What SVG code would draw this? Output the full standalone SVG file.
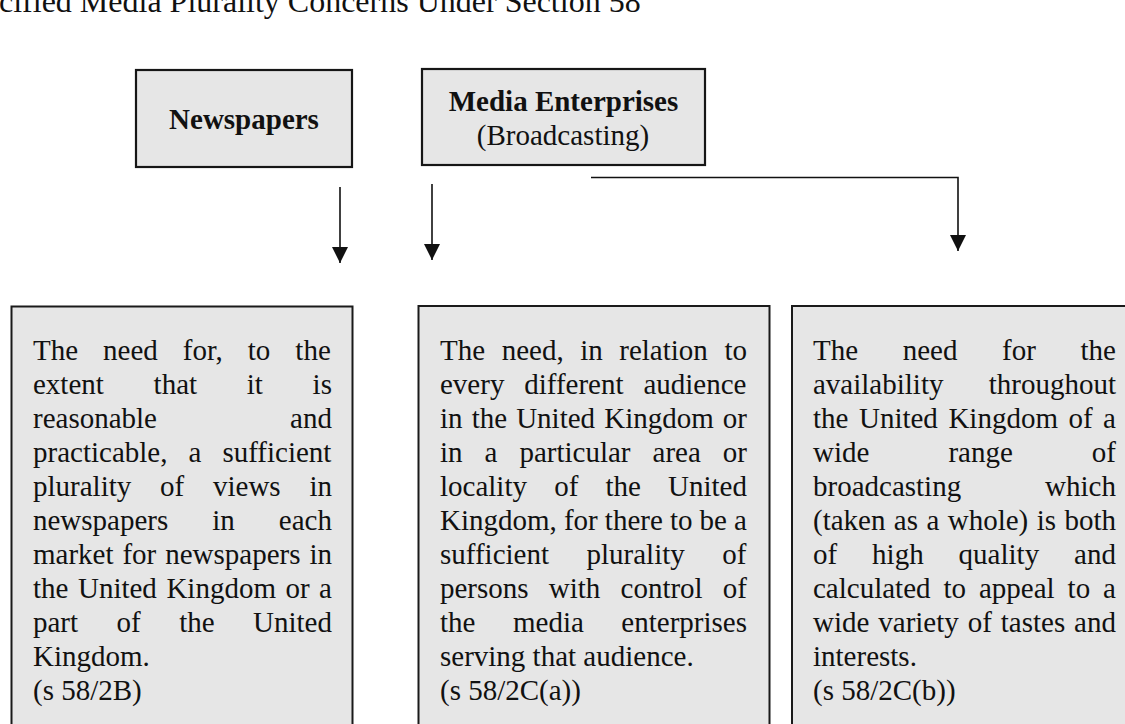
<svg xmlns="http://www.w3.org/2000/svg" width="1125" height="724" viewBox="0 0 1125 724">
<defs>
<style>
text { font-family: "Liberation Serif", "Times New Roman", serif; fill: #111; font-variant-ligatures: none; }
.title { font-size: 32px; }
.head { font-size: 29px; font-weight: bold; text-anchor: middle; }
.sub { font-size: 29px; text-anchor: middle; }
.body { font-size: 29px; }
.topbox { fill: #e6e6e6; stroke: #161616; stroke-width: 2.2; }
.box { fill: #e6e6e6; stroke: #1a1a1a; stroke-width: 2; }
.conn { fill: none; stroke: #111; stroke-width: 1.6; }
</style>
<marker id="arrow" markerUnits="userSpaceOnUse" markerWidth="16" markerHeight="16" refX="16" refY="8" orient="auto">
<path d="M0,0 L16,8 L0,16 Z" fill="#111"/>
</marker>
</defs>
<rect width="1125" height="724" fill="#ffffff"/>

<text class="title" x="-1" y="12">cified Media Plurality Concerns Under Section 58</text>

<g id="node-newspapers">
<rect class="topbox" x="136" y="70" width="216" height="97"/>
<text class="head" x="244" y="129">Newspapers</text>
</g>

<g id="node-media">
<rect class="topbox" x="422" y="69" width="283" height="96"/>
<text class="head" x="563.5" y="111">Media Enterprises</text>
<text class="sub" x="563" y="145">(Broadcasting)</text>
</g>

<g id="connectors">
<line class="conn" x1="340" y1="187" x2="340" y2="263" marker-end="url(#arrow)"/>
<line class="conn" x1="432" y1="184" x2="432" y2="260" marker-end="url(#arrow)"/>
<polyline class="conn" points="591,177.5 958,177.5 958,251" marker-end="url(#arrow)"/>
</g>

<g id="node-2b">
<rect class="box" x="11.5" y="306.5" width="341" height="430"/>
<text class="body" x="33" y="360" word-spacing="17.77">The need for, to the</text>
<text class="body" x="33" y="394" word-spacing="42.47">extent that it is</text>
<text class="body" x="33" y="428" word-spacing="125.87">reasonable and</text>
<text class="body" x="33" y="462" word-spacing="13.81">practicable, a sufficient</text>
<text class="body" x="33" y="496" word-spacing="21.53">plurality of views in</text>
<text class="body" x="33" y="530" word-spacing="36.76">newspapers in each</text>
<text class="body" x="33" y="564" word-spacing="1.69">market for newspapers in</text>
<text class="body" x="33" y="598" word-spacing="2.26">the United Kingdom or a</text>
<text class="body" x="33" y="632" word-spacing="31.21">part of the United</text>
<text class="body" x="33" y="666">Kingdom.</text>
<text class="body" x="33" y="700">(s 58/2B)</text>
</g>

<g id="node-2ca">
<rect class="box" x="418.5" y="306" width="351" height="430"/>
<text class="body" x="440" y="360" word-spacing="9.30">The need, in relation to</text>
<text class="body" x="440" y="394" word-spacing="12.59">every different audience</text>
<text class="body" x="440" y="428" word-spacing="1.84">in the United Kingdom or</text>
<text class="body" x="440" y="462" word-spacing="14.75">in a particular area or</text>
<text class="body" x="440" y="496" word-spacing="19.91">locality of the United</text>
<text class="body" x="440" y="530" word-spacing="-0.13">Kingdom, for there to be a</text>
<text class="body" x="440" y="564" word-spacing="30.26">sufficient plurality of</text>
<text class="body" x="440" y="598" word-spacing="12.93">persons with control of</text>
<text class="body" x="440" y="632" word-spacing="30.28">the media enterprises</text>
<text class="body" x="440" y="666">serving that audience.</text>
<text class="body" x="440" y="700">(s 58/2C(a))</text>
</g>

<g id="node-2cb">
<rect class="box" x="792" y="306" width="360" height="430"/>
<text class="body" x="813" y="360" word-spacing="37.38">The need for the</text>
<text class="body" x="813" y="394" word-spacing="37.97">availability throughout</text>
<text class="body" x="813" y="428" word-spacing="3.26">the United Kingdom of a</text>
<text class="body" x="813" y="462" word-spacing="71.78">wide range of</text>
<text class="body" x="813" y="496" word-spacing="76.68">broadcasting which</text>
<text class="body" x="813" y="530" word-spacing="1.16">(taken as a whole) is both</text>
<text class="body" x="813" y="564" word-spacing="27.7">of high quality and</text>
<text class="body" x="813" y="598" word-spacing="5.69">calculated to appeal to a</text>
<text class="body" x="813" y="632" word-spacing="1.66">wide variety of tastes and</text>
<text class="body" x="813" y="666">interests.</text>
<text class="body" x="813" y="700">(s 58/2C(b))</text>
</g>
</svg>
